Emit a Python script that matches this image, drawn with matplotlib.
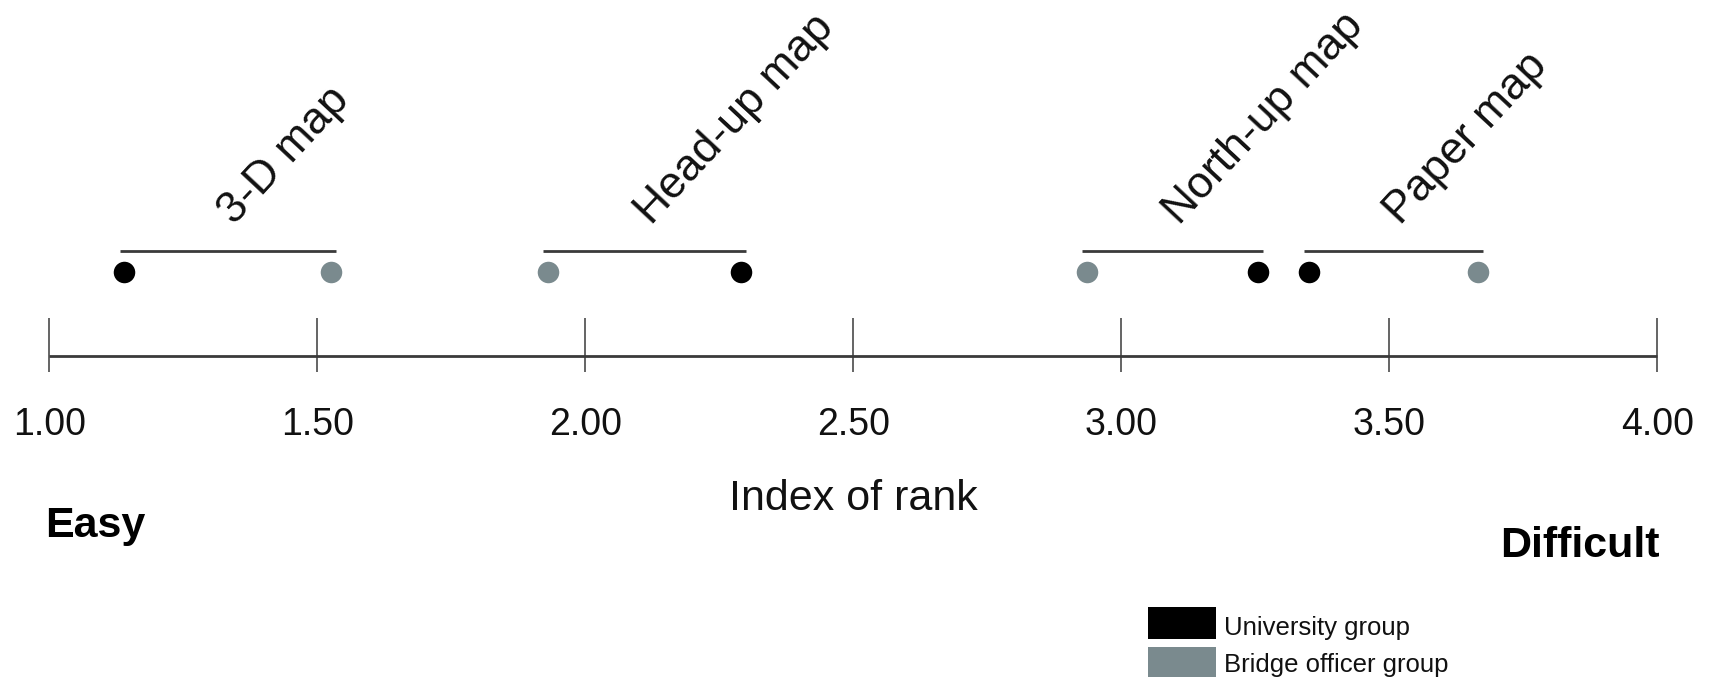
import matplotlib
matplotlib.use("Agg")
import matplotlib.pyplot as plt
from matplotlib.patches import Rectangle

# Mean rank index of each map type for the two groups
methods = ["3-D map", "Head-up map", "North-up map", "Paper map"]
university = [1.14, 2.29, 3.255, 3.35]
bridge_officer = [1.525, 1.93, 2.935, 3.665]
tick_values = [1.00, 1.50, 2.00, 2.50, 3.00, 3.50, 4.00]
tick_labels = ["1.00", "1.50", "2.00", "2.50", "3.00", "3.50", "4.00"]

BLACK = "#000000"
GRAY = "#7a8a8e"
LINE = "#3a3a3a"
FONT = "Liberation Sans"

W, H = 1709, 678
fig = plt.figure(figsize=(W / 100, H / 100), dpi=100)
ax = fig.add_axes([0, 0, 1, 1])
# x in rank units, y in pixel rows from the top
x_left = 1.0 - 49.4 / 536.0
x_right = 1.0 + (W - 49.4) / 536.0
ax.set_xlim(x_left, x_right)
ax.set_ylim(H, 0)
ax.axis("off")

# scale line with ticks
axis_y = 356
ax.plot([tick_values[0], tick_values[-1]], [axis_y, axis_y], color=LINE, lw=2.0,
        solid_capstyle="butt")
ax.vlines(tick_values, 318, 372, color=LINE, lw=1.1)
for v, lab in zip(tick_values, tick_labels):
    ax.text(v, 435, lab, ha="center", va="baseline", fontsize=27, family=FONT,
            color="#111111")

ax.text((tick_values[0] + tick_values[-1]) / 2, 510, "Index of rank", ha="center",
        va="baseline", fontsize=31, family=FONT, color="#111111")
ax.text(x_left + 45 / 536.0, 537, "Easy", ha="left", va="baseline", fontsize=31,
        fontweight="bold", family=FONT)
ax.text(x_left + 1660 / 536.0, 557, "Difficult", ha="right", va="baseline",
        fontsize=31, fontweight="bold", family=FONT)

# points, brackets and rotated method names
dot_y = 272
bracket_y = 251
pad = 0.009
for name, u, b in zip(methods, university, bridge_officer):
    lo, hi = min(u, b), max(u, b)
    ax.plot([lo - pad, hi + pad], [bracket_y, bracket_y], color=LINE, lw=2.0,
            solid_capstyle="butt")
    ax.annotate(name, xy=((lo + hi) / 2, bracket_y), xytext=(5, 18),
                textcoords="offset points", rotation=47, rotation_mode="anchor",
                ha="left", va="baseline", fontsize=32, family=FONT, color="#111111")

ax.plot(university, [dot_y] * len(university), "o", color=BLACK, ms=15.5, mew=0)
ax.plot(bridge_officer, [dot_y] * len(bridge_officer), "o", color=GRAY, ms=15.5, mew=0)

# legend
px = 1.0 / 536.0
for color, y0, y1, label, base in [(BLACK, 607, 639, "University group", 635),
                                    (GRAY, 647, 677, "Bridge officer group", 672)]:
    ax.add_patch(Rectangle((x_left + 1148 * px, y0), 68 * px, y1 - y0,
                           facecolor=color, edgecolor="none"))
    ax.text(x_left + 1224 * px, base, label, ha="left", va="baseline", fontsize=18.5,
            family=FONT, color="#111111")

fig.savefig("out.png", dpi=100)
